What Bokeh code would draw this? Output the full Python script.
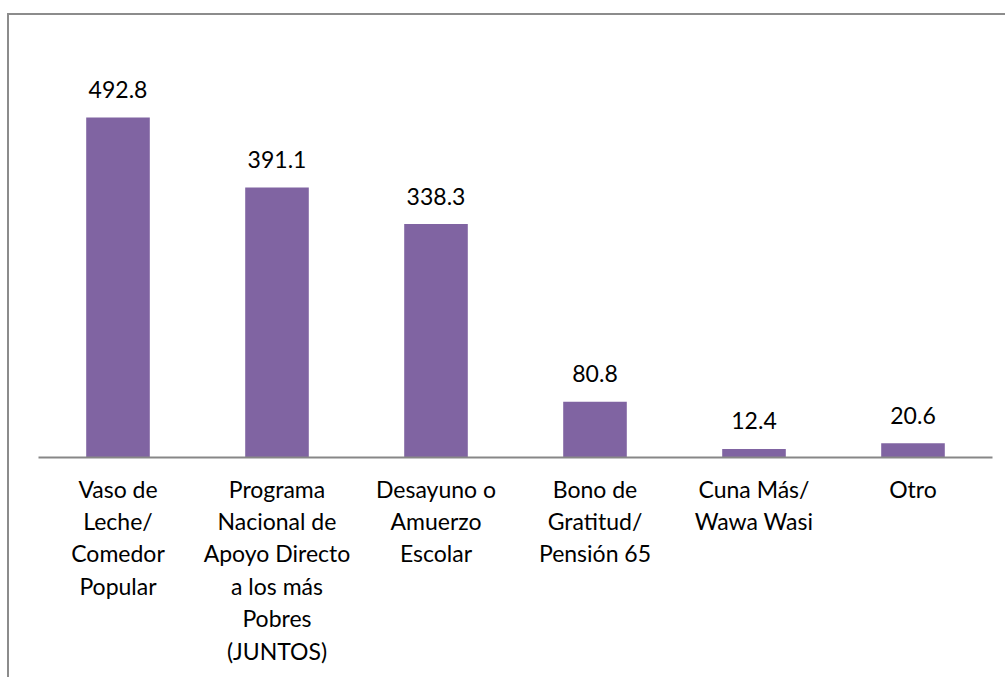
from bokeh.plotting import figure
from bokeh.models import ColumnDataSource, FactorRange, Range1d
from bokeh.core.properties import value
from bokeh.embed import file_html
from bokeh.resources import INLINE

categories = [
    "Vaso de\nLeche/\nComedor\nPopular",
    "Programa\nNacional de\nApoyo Directo\na los más\nPobres\n(JUNTOS)",
    "Desayuno o\nAmuerzo\nEscolar",
    "Bono de\nGratitud/\nPensión 65",
    "Cuna Más/\nWawa Wasi",
    "Otro",
]
values = [492.8, 391.1, 338.3, 80.8, 12.4, 20.6]
value_labels = ["492.8", "391.1", "338.3", "80.8", "12.4", "20.6"]

FONT = "Lato"
BAR_COLOR = "#8064A2"

src = ColumnDataSource(data=dict(cat=categories, val=values, lab=value_labels))

p = figure(
    width=998, height=664,
    x_range=FactorRange(factors=categories),
    y_range=Range1d(0, 621.7),
    output_backend="svg", toolbar_location=None, tools="",
    y_axis_location=None,
    min_border_left=29, min_border_right=15, min_border_top=13, min_border_bottom=222,
)
p.styles = {"border-top": "2px solid #8c8c8c", "border-left": "2px solid #8c8c8c",
            "margin-top": "13px", "margin-left": "7px"}
p.outline_line_color = None
p.xgrid.grid_line_color = None
p.ygrid.grid_line_color = None
p.background_fill_color = "white"
p.border_fill_color = "white"

p.vbar(x="cat", top="val", width=0.4, source=src, fill_color=BAR_COLOR, line_color=None)
p.text(x="cat", y="val", text="lab", source=src, text_align="center", text_baseline="alphabetic",
       y_offset=-28, text_font=value(FONT), text_font_size="23px", text_color="black")

ax = p.xaxis[0]
ax.axis_line_color = "#878787"
ax.axis_line_width = 2
ax.major_tick_line_color = None
ax.minor_tick_line_color = None
ax.major_tick_out = 0
ax.major_tick_in = 0
ax.major_label_standoff = 17
ax.major_label_text_font = FONT
ax.major_label_text_font_size = "23px"
ax.major_label_text_color = "black"
ax.major_label_text_line_height = 1.16
ax.major_label_orientation = "horizontal"

open("out.html", "w").write(file_html(p, INLINE))
